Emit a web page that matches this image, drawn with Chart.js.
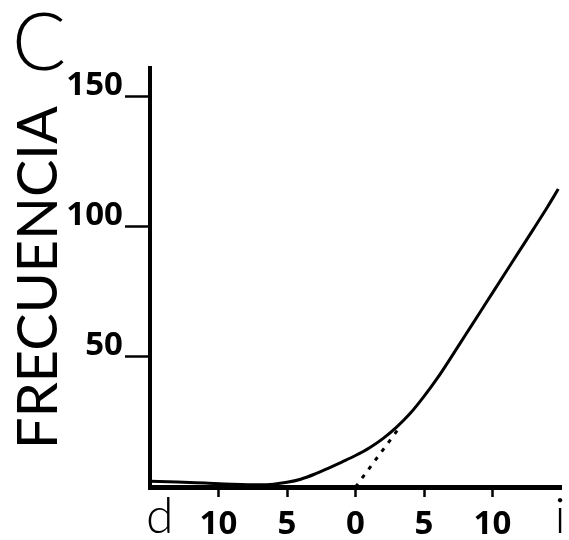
<!DOCTYPE html>
<html>
<head>
<meta charset="utf-8">
<script src="https://cdn.jsdelivr.net/npm/chart.js@4.4.1/dist/chart.umd.min.js"></script>
<style>
  html, body { margin: 0; padding: 0; background: #ffffff; }
  canvas { display: block; }
</style>
</head>
<body>
<canvas id="c" width="569" height="540"></canvas>
<script>
// ---- data ----
const curveX = [-15, -13, -11, -9, -7, -6, -5, -4, -3, -2, -1, 0, 1, 2, 3, 4, 5, 6, 7, 8, 9, 10, 11, 12, 13, 14, 14.8];
const curveY = [2.2, 1.9, 1.5, 1.1, 0.9, 1.1, 1.8, 3.0, 4.9, 7.2, 9.6, 12.1, 15.0, 18.6, 23.0, 28.3, 34.8, 42.0, 50.0, 58.2, 66.4, 74.6, 82.8, 91.0, 99.2, 107.5, 114.5];
const dottedX = [0, 3.3];
const dottedY = [0, 23.5];
const xTicks = [-15, -10, -5, 0, 5, 10, 15];
const yTicks = [50, 100, 150];
const endLabels = { left: 'd', right: 'i' };
const yTitle = 'FRECUENCIA';
const panelLetter = 'C';

const tickFont = { family: '"Liberation Sans Narrow", "Noto Sans", "DejaVu Sans", sans-serif', size: 33, weight: 'bold condensed' };
const lightFamily = 'Lato, "Open Sans", sans-serif';

const extraText = {
  id: 'extraText',
  afterDraw(chart) {
    const ctx = chart.ctx;
    const xs = chart.scales.x;
    const area = chart.chartArea;
    ctx.save();
    ctx.fillStyle = '#000';
    ctx.textBaseline = 'alphabetic';
    ctx.font = '300 50px ' + lightFamily;
    ctx.textAlign = 'left';
    ctx.fillText(endLabels.left, xs.getPixelForValue(-15) - 4, area.bottom + 46);
    ctx.textAlign = 'center';
    ctx.fillText(endLabels.right, xs.getPixelForValue(15) - 1, area.bottom + 46);
    ctx.font = '300 80px ' + lightFamily;
    ctx.fillText(panelLetter, 39, 70);
    ctx.restore();
  }
};

new Chart(document.getElementById('c'), {
  type: 'line',
  data: {
    datasets: [
      {
        data: curveX.map((x, i) => ({ x: x, y: curveY[i] })),
        borderColor: '#000',
        borderWidth: 3,
        pointRadius: 0,
        cubicInterpolationMode: 'monotone',
        fill: false
      },
      {
        data: dottedX.map((x, i) => ({ x: x, y: dottedY[i] })),
        borderColor: '#000',
        borderWidth: 3,
        borderDash: [4, 7],
        pointRadius: 0,
        fill: false
      }
    ]
  },
  options: {
    responsive: false,
    animation: false,
    layout: { padding: { top: 68, right: 1, left: 0, bottom: 0 } },
    plugins: { legend: { display: false }, tooltip: { enabled: false } },
    scales: {
      x: {
        type: 'linear',
        min: -15,
        max: 15,
        afterBuildTicks: (s) => { s.ticks = xTicks.map(v => ({ value: v })); },
        afterFit: (s) => { s.height = 53; },
        border: { display: true, color: '#000', width: 5 },
        grid: {
          display: true,
          drawOnChartArea: false,
          tickLength: 10,
          tickWidth: 2.5,
          tickColor: (ctx) => (ctx.tick && Math.abs(ctx.tick.value) === 15) ? 'rgba(0,0,0,0)' : '#000'
        },
        ticks: {
          color: '#000',
          font: tickFont,
          padding: 8,
          maxRotation: 0,
          autoSkip: false,
          callback: (v) => Math.abs(v) === 15 ? '' : String(Math.abs(v))
        }
      },
      y: {
        type: 'linear',
        min: 0,
        max: 161,
        afterBuildTicks: (s) => { s.ticks = yTicks.map(v => ({ value: v })); },
        afterFit: (s) => { s.width = 150; },
        border: { display: true, color: '#000', width: 4 },
        grid: {
          display: true,
          drawOnChartArea: false,
          tickLength: 25,
          tickWidth: 2.5,
          tickColor: '#000'
        },
        ticks: {
          color: '#000',
          font: tickFont,
          padding: 2,
          labelOffset: -11,
          autoSkip: false,
          callback: (v) => String(v)
        },
        title: {
          display: true,
          text: yTitle,
          color: '#000',
          font: { family: lightFamily, size: 56, weight: 'normal' },
          padding: { top: 5, bottom: 0 }
        }
      }
    }
  },
  plugins: [extraText]
});
</script>
</body>
</html>
